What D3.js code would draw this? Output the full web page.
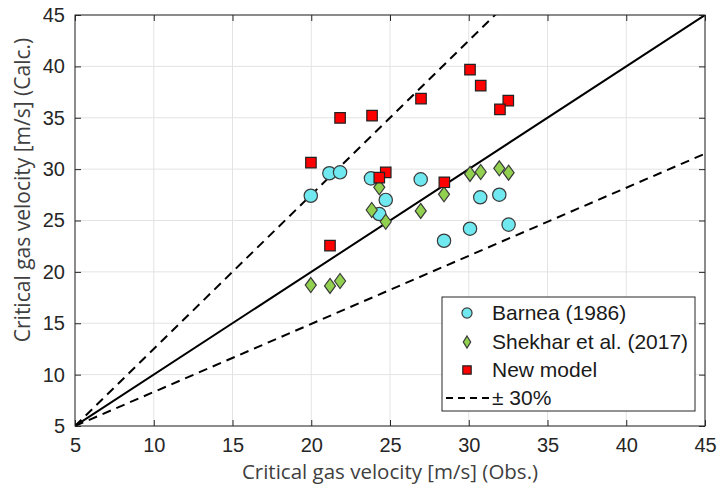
<!DOCTYPE html>
<html>
<head>
<meta charset="utf-8">
<script src="https://cdn.jsdelivr.net/npm/d3@7"></script>
<style>
  body { margin: 0; background: #fff; }
  svg { display: block; }
</style>
</head>
<body>
<div id="chart"></div>
<script>
// Barnea (1986)
const barneaObs  = [19.97, 21.15, 21.83, 23.79, 24.73, 24.32, 26.95, 28.43, 30.08, 30.73, 31.94, 32.53];
const barneaCalc = [27.41, 29.6, 29.69, 29.1, 27.0, 25.63, 29.0, 23.03, 24.2, 27.26, 27.51, 24.6];

// Shekhar et al. (2017)
const shekharObs  = [24.32, 23.84, 24.73, 26.95, 28.43, 30.08, 30.76, 31.94, 32.53, 19.97, 21.19, 21.83];
const shekharCalc = [28.23, 26.02, 24.88, 25.93, 27.55, 29.53, 29.72, 30.08, 29.65, 18.72, 18.63, 19.11];

// New model
const newObs  = [30.08, 30.76, 26.97, 32.51, 31.98, 21.83, 23.86, 19.98, 24.73, 24.32, 28.45, 21.19];
const newCalc = [39.68, 38.12, 36.86, 36.66, 35.82, 34.98, 35.2, 30.63, 29.69, 29.17, 28.72, 22.55];

// reference lines
const diagX = [5, 45];
const diagY = [5, 45];
const upperY = [5, 65];
const lowerY = [5, 31.5];

const ticks = [5, 10, 15, 20, 25, 30, 35, 40, 45];
const legendLabels = ["Barnea (1986)", "Shekhar et al. (2017)", "New model", "\u00b1 30%"];

const width = 721, height = 490;
const margin = { left: 75, right: 16, top: 15, bottom: 64 };

const svg = d3.select("#chart").append("svg")
    .attr("width", width)
    .attr("height", height);

const x = d3.scaleLinear().domain([5, 45]).range([margin.left, width - margin.right]);
const y = d3.scaleLinear().domain([5, 45]).range([height - margin.bottom, margin.top]);

// grid
const grid = svg.append("g");
grid.selectAll(".gx").data(ticks).enter().append("line")
    .attr("x1", d => x(d)).attr("x2", d => x(d))
    .attr("y1", y(5)).attr("y2", y(45))
    .attr("stroke", "#e3e3e3").attr("stroke-width", 1);
grid.selectAll(".gy").data(ticks).enter().append("line")
    .attr("y1", d => y(d)).attr("y2", d => y(d))
    .attr("x1", x(5)).attr("x2", x(45))
    .attr("stroke", "#e3e3e3").attr("stroke-width", 1);

// axes (ticks point inward, MATLAB style)
const axisColor = "#262626";
function styleAxis(g) {
    g.select(".domain").remove();
    g.selectAll(".tick line").attr("stroke", axisColor);
    g.selectAll(".tick text")
        .attr("fill", axisColor)
        .style("font-family", "'Liberation Sans', Arial, sans-serif")
        .style("font-size", "20px");
}
svg.append("g")
    .attr("transform", `translate(0,${y(5)})`)
    .call(d3.axisBottom(x).tickValues(ticks).tickSizeInner(-6).tickPadding(12))
    .call(styleAxis);
svg.append("g")
    .attr("transform", `translate(${x(5)},0)`)
    .call(d3.axisLeft(y).tickValues(ticks).tickSizeInner(-6).tickPadding(10))
    .call(styleAxis);
svg.append("g")
    .attr("transform", `translate(0,${y(45)})`)
    .call(d3.axisTop(x).tickValues(ticks).tickSizeInner(-6).tickFormat(""))
    .call(styleAxis);
svg.append("g")
    .attr("transform", `translate(${x(45)},0)`)
    .call(d3.axisRight(y).tickValues(ticks).tickSizeInner(-6).tickFormat(""))
    .call(styleAxis);

// clip for lines
svg.append("clipPath").attr("id", "plotclip")
    .append("rect")
    .attr("x", x(5)).attr("y", y(45))
    .attr("width", x(45) - x(5)).attr("height", y(5) - y(45));

const lineGen = d3.line().x(d => x(d[0])).y(d => y(d[1]));
const lines = svg.append("g").attr("clip-path", "url(#plotclip)");
lines.append("path")
    .datum(d3.zip(diagX, upperY))
    .attr("d", lineGen)
    .attr("fill", "none").attr("stroke", "#000").attr("stroke-width", 2)
    .attr("stroke-dasharray", "9,6");
lines.append("path")
    .datum(d3.zip(diagX, lowerY))
    .attr("d", lineGen)
    .attr("fill", "none").attr("stroke", "#000").attr("stroke-width", 2)
    .attr("stroke-dasharray", "9,6");
lines.append("path")
    .datum(d3.zip(diagX, diagY))
    .attr("d", lineGen)
    .attr("fill", "none").attr("stroke", "#000").attr("stroke-width", 2);

// box
svg.append("rect")
    .attr("x", x(5)).attr("y", y(45))
    .attr("width", x(45) - x(5)).attr("height", y(5) - y(45))
    .attr("fill", "none").attr("stroke", axisColor).attr("stroke-width", 1);

// markers
const cyan = "#6fe8ef", green = "#92d050", red = "#ff0000", edge = "#3a3a3a";
const symCircle = d3.symbol().type(d3.symbolCircle).size(140);
const symSquare = d3.symbol().type(d3.symbolSquare).size(110);
const diamondPath = "M0,-7.5L5.5,0L0,7.5L-5.5,0Z";

svg.append("g").selectAll("path")
    .data(d3.zip(barneaObs, barneaCalc)).enter().append("path")
    .attr("d", symCircle)
    .attr("transform", d => `translate(${x(d[0])},${y(d[1])})`)
    .attr("fill", cyan).attr("stroke", edge).attr("stroke-width", 1.2);

svg.append("g").selectAll("path")
    .data(d3.zip(shekharObs, shekharCalc)).enter().append("path")
    .attr("d", diamondPath)
    .attr("transform", d => `translate(${x(d[0])},${y(d[1])})`)
    .attr("fill", green).attr("stroke", edge).attr("stroke-width", 1.2);

svg.append("g").selectAll("path")
    .data(d3.zip(newObs, newCalc)).enter().append("path")
    .attr("d", symSquare)
    .attr("transform", d => `translate(${x(d[0])},${y(d[1])})`)
    .attr("fill", red).attr("stroke", "#222").attr("stroke-width", 1.2);

// axis titles
svg.append("text")
    .attr("x", x(25)).attr("y", 479)
    .attr("text-anchor", "middle")
    .attr("fill", "#404040")
    .style("font-family", "'Open Sans', sans-serif")
    .style("font-size", "20.5px")
    .text("Critical gas velocity [m/s] (Obs.)");

svg.append("text")
    .attr("transform", `translate(30,190) rotate(-90)`)
    .attr("text-anchor", "middle")
    .attr("fill", "#404040")
    .style("font-family", "'Open Sans', sans-serif")
    .style("font-size", "21px")
    .text("Critical gas velocity [m/s] (Calc.)");

// legend
const legend = svg.append("g");
legend.append("rect")
    .attr("x", 442).attr("y", 297).attr("width", 253).attr("height", 114)
    .attr("fill", "#fff").attr("stroke", axisColor).attr("stroke-width", 1);

const rowY = [313, 342, 370, 398];
const textX = 492, symX = 467;
legend.append("path").attr("d", d3.symbol().type(d3.symbolCircle).size(80))
    .attr("transform", `translate(${symX},${rowY[0]})`)
    .attr("fill", cyan).attr("stroke", edge).attr("stroke-width", 1.2);
legend.append("path").attr("d", "M0,-6L3.7,0L0,6L-3.7,0Z")
    .attr("transform", `translate(${symX},${rowY[1]})`)
    .attr("fill", green).attr("stroke", edge).attr("stroke-width", 1.2);
legend.append("path").attr("d", d3.symbol().type(d3.symbolSquare).size(70))
    .attr("transform", `translate(${symX},${rowY[2]})`)
    .attr("fill", red).attr("stroke", "#222").attr("stroke-width", 1.2);
legend.append("line")
    .attr("x1", 446).attr("x2", 490).attr("y1", rowY[3]).attr("y2", rowY[3])
    .attr("stroke", "#000").attr("stroke-width", 2).attr("stroke-dasharray", "7,5");

legend.selectAll("text").data(legendLabels).enter().append("text")
    .attr("x", textX)
    .attr("y", (d, i) => rowY[i])
    .attr("dy", "0.35em")
    .attr("fill", "#1a1a1a")
    .style("font-family", "'Liberation Sans', Arial, sans-serif")
    .style("font-size", "21px")
    .text(d => d);
</script>
</body>
</html>
